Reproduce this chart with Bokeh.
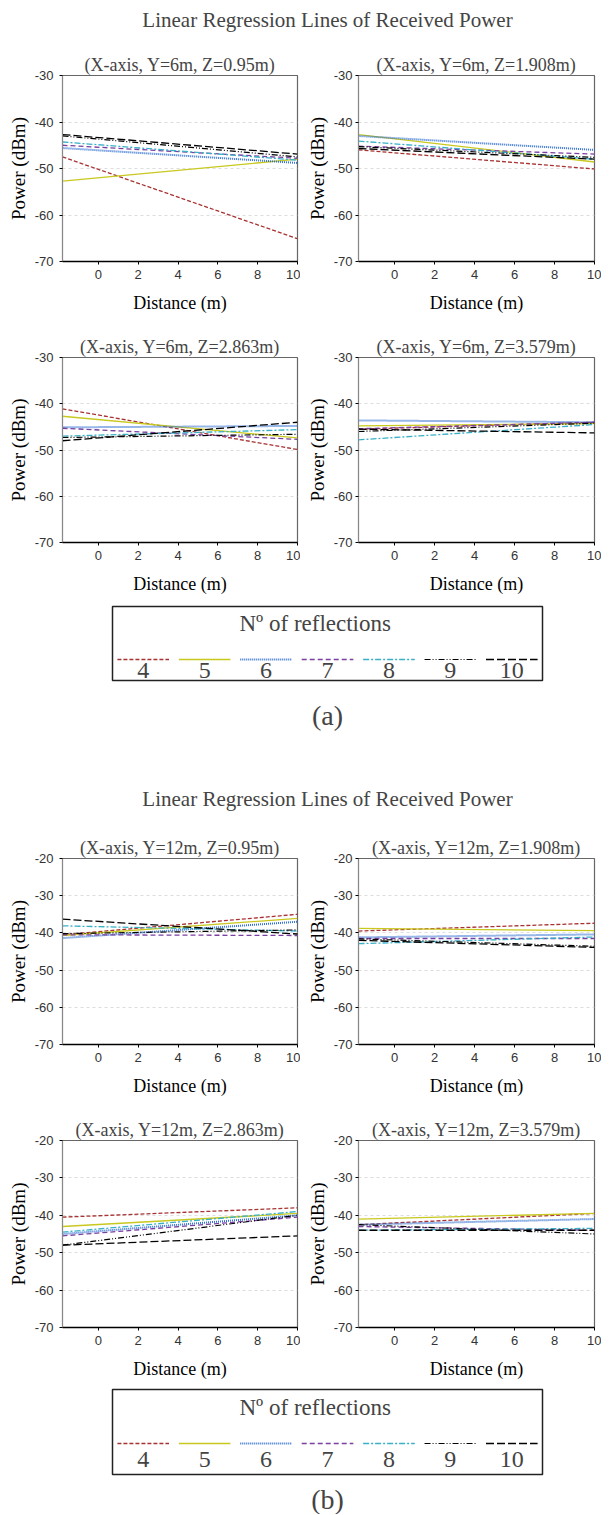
from bokeh.plotting import figure
from bokeh.models import Range1d, Label, FixedTicker
from bokeh.layouts import column, row
from bokeh.embed import file_html
from bokeh.resources import INLINE

# ---------------- data ----------------
reflections = ["4", "5", "6", "7", "8", "9", "10"]
distance_ends = [-1.8, 10.0]          # regression lines drawn across the distance range
x_ticks = [0, 2, 4, 6, 8, 10]
y_ticks_a = [-70, -60, -50, -40, -30]
y_tick_labels_a = ["-70", "-60", "-50", "-40", "-30"]
y_ticks_b = [-70, -60, -50, -40, -30, -20]
y_tick_labels_b = ["-70", "-60", "-50", "-40", "-30", "-20"]

titles_a = ["(X-axis, Y=6m, Z=0.95m)", "(X-axis, Y=6m, Z=1.908m)",
            "(X-axis, Y=6m, Z=2.863m)", "(X-axis, Y=6m, Z=3.579m)"]
titles_b = ["(X-axis, Y=12m, Z=0.95m)", "(X-axis, Y=12m, Z=1.908m)",
            "(X-axis, Y=12m, Z=2.863m)", "(X-axis, Y=12m, Z=3.579m)"]

# power (dBm) at the start / end of each regression line, order: 4,5,6,7,8,9,10 reflections
a1_start = [-47.5, -52.7, -45.6, -45.0, -44.3, -43.0, -42.7]
a1_end = [-65.1, -48.0, -48.8, -47.8, -48.2, -47.5, -46.9]
a2_start = [-46.0, -42.7, -43.0, -45.2, -44.1, -45.3, -45.7]
a2_end = [-50.1, -48.6, -46.0, -46.9, -48.0, -47.6, -48.0]
a3_start = [-41.1, -42.7, -45.1, -45.3, -47.0, -47.3, -48.0]
a3_end = [-49.9, -47.4, -44.8, -47.7, -45.6, -46.6, -44.0]
a4_start = [-45.5, -44.8, -43.6, -45.4, -47.8, -46.0, -45.5]
a4_end = [-44.0, -44.3, -44.0, -44.0, -44.5, -44.2, -46.3]

b1_start = [-40.5, -40.7, -41.4, -40.5, -38.1, -40.2, -36.3]
b1_end = [-35.0, -36.1, -37.0, -40.7, -39.5, -39.2, -40.3]
b2_start = [-39.5, -38.8, -41.2, -41.5, -42.9, -41.6, -42.0]
b2_end = [-37.4, -39.4, -40.4, -41.5, -41.1, -43.6, -43.9]
b3_start = [-40.5, -43.0, -45.0, -45.5, -44.5, -48.0, -48.0]
b3_end = [-38.0, -39.5, -40.0, -40.5, -39.0, -40.0, -45.5]
b4_start = [-42.5, -41.0, -42.5, -43.0, -44.0, -42.5, -44.0]
b4_end = [-39.5, -39.5, -41.0, -44.0, -43.5, -45.0, -44.0]

# ---------------- styles ----------------
colors = ["#a83232", "#c8c81e", "#2f6fd0", "#7a3fa0", "#3ab0c8", "#000000", "#000000"]
dashes = ["4 2", "solid", "1 1", "5 3", "6 2 2 2", "6 2 1 2 1 2", "8 3"]
widths = [1.3, 1.3, 2.0, 1.3, 1.3, 1.2, 1.3]

SERIF = "Liberation Serif"
SANS = "Liberation Sans"
TOTAL_W = 601


def subplot(title, starts, ends, ymax, yticks, ylabels, left, fw, right, top, fh, bottom, ystand):
    p = figure(width=left + fw + right, height=top + fh + bottom,
               x_range=Range1d(distance_ends[0], distance_ends[1]),
               y_range=Range1d(-70, ymax),
               toolbar_location=None, output_backend="svg",
               min_border_left=left, min_border_right=right,
               min_border_top=top, min_border_bottom=bottom,
               title=title)
    p.title.text_font = SERIF
    p.title.text_font_size = "18px"
    p.title.text_font_style = "normal"
    p.title.align = "center"
    p.title.standoff = 1
    p.outline_line_color = "#666666"
    p.outline_line_width = 1.2
    p.background_fill_color = "white"
    p.border_fill_color = "white"

    p.xaxis.ticker = FixedTicker(ticks=x_ticks)
    p.yaxis.ticker = FixedTicker(ticks=yticks)
    p.yaxis.major_label_overrides = {t: s for t, s in zip(yticks, ylabels)}
    for ax in (p.xaxis[0], p.yaxis[0]):
        ax.minor_tick_line_color = None
        ax.major_tick_in = 0
        ax.major_tick_out = 3
        ax.major_label_text_font = SANS
        ax.major_label_text_font_size = "13px"
        ax.major_label_text_color = "#333333"
        ax.axis_label_text_font = SERIF
        ax.axis_label_text_font_style = "normal"
        ax.axis_label_text_color = "black"
    p.xaxis.axis_label = "Distance (m)"
    p.xaxis.axis_label_text_font_size = "18px"
    p.xaxis.axis_line_color = "black"
    p.xaxis.axis_line_width = 1.5
    p.xaxis.major_label_standoff = 5
    p.xaxis.axis_label_standoff = 11
    p.yaxis.axis_label = "Power (dBm)"
    p.yaxis.axis_label_text_font_size = "19px"
    p.yaxis.axis_line_color = "#888888"
    p.yaxis.major_label_standoff = ystand
    p.yaxis.axis_label_standoff = 3

    p.xgrid.grid_line_color = None
    p.ygrid.grid_line_color = "#dddddd"
    p.ygrid.grid_line_dash = "3 3"

    for i in range(len(reflections)):
        p.line(distance_ends, [starts[i], ends[i]], line_color=colors[i],
               line_dash=dashes[i], line_width=widths[i])
    return p


def blank(h, labels):
    p = figure(width=TOTAL_W, height=h, x_range=Range1d(0, 1), y_range=Range1d(h, 0),
               toolbar_location=None, output_backend="svg", min_border=0,
               x_axis_location=None, y_axis_location=None, outline_line_color=None)
    for g in p.grid:
        g.grid_line_color = None
    for (txt, xx, yy, size) in labels:
        p.add_layout(Label(x=xx, y=yy, text=txt, text_font=SERIF, text_font_size=size,
                           text_align="center", text_baseline="middle"))
    return p


def legend_fig(fh, top, bottom, title_y, line_y, num_y):
    p = figure(width=TOTAL_W, height=top + fh + bottom,
               x_range=Range1d(0, len(reflections)), y_range=Range1d(fh, 0),
               toolbar_location=None, output_backend="svg",
               min_border_left=112, min_border_right=59,
               min_border_top=top, min_border_bottom=bottom,
               x_axis_location=None, y_axis_location=None,
               outline_line_color="#222222", outline_line_width=1.5)
    for g in p.grid:
        g.grid_line_color = None
    p.add_layout(Label(x=3.3, y=title_y, text="N\u00ba of reflections", text_font=SERIF,
                       text_font_size="23px", text_align="center", text_baseline="middle"))
    for i in range(len(reflections)):
        p.line([i + 0.08, i + 0.92], [line_y, line_y], line_color=colors[i],
               line_dash=dashes[i], line_width=widths[i])
        p.add_layout(Label(x=i + 0.5, y=num_y, text=reflections[i], text_font=SERIF,
                           text_font_size="24px", text_align="center",
                           text_baseline="middle"))
    return p


# ---------------- group (a) ----------------
title_a = blank(40, [("Linear Regression Lines of Received Power", 0.5, 19, "21px")])
a_r1 = row(
    subplot(titles_a[0], a1_start, a1_end, -30, y_ticks_a, y_tick_labels_a, 62, 235, 3, 32, 189, 61, 6),
    subplot(titles_a[1], a2_start, a2_end, -30, y_ticks_a, y_tick_labels_a, 58, 236, 7, 35, 189, 58, 3),
)
a_r2 = row(
    subplot(titles_a[2], a3_start, a3_end, -30, y_ticks_a, y_tick_labels_a, 62, 235, 3, 31, 189, 58, 6),
    subplot(titles_a[3], a4_start, a4_end, -30, y_ticks_a, y_tick_labels_a, 58, 236, 7, 35, 187, 56, 3),
)
leg_a = legend_fig(74, 6, 10, 17, 53, 64)
cap_a = blank(50, [("(a)", 0.5, 25, "28px")])

# ---------------- group (b) ----------------
title_b = blank(86, [("Linear Regression Lines of Received Power", 0.5, 58, "21px")])
b_r1 = row(
    subplot(titles_b[0], b1_start, b1_end, -20, y_ticks_b, y_tick_labels_b, 62, 235, 3, 29, 189, 61, 6),
    subplot(titles_b[1], b2_start, b2_end, -20, y_ticks_b, y_tick_labels_b, 58, 236, 7, 32, 190, 57, 3),
)
b_r2 = row(
    subplot(titles_b[2], b3_start, b3_end, -20, y_ticks_b, y_tick_labels_b, 62, 235, 3, 32, 190, 56, 6),
    subplot(titles_b[3], b4_start, b4_end, -20, y_ticks_b, y_tick_labels_b, 58, 236, 7, 35, 191, 52, 3),
)
leg_b = legend_fig(85, 6, 6, 18, 54, 70)
cap_b = blank(34, [("(b)", 0.5, 19, "28px")])

layout = column(title_a, a_r1, a_r2, leg_a, cap_a, title_b, b_r1, b_r2, leg_b, cap_b)

open("out.html", "w").write(file_html(layout, INLINE))
